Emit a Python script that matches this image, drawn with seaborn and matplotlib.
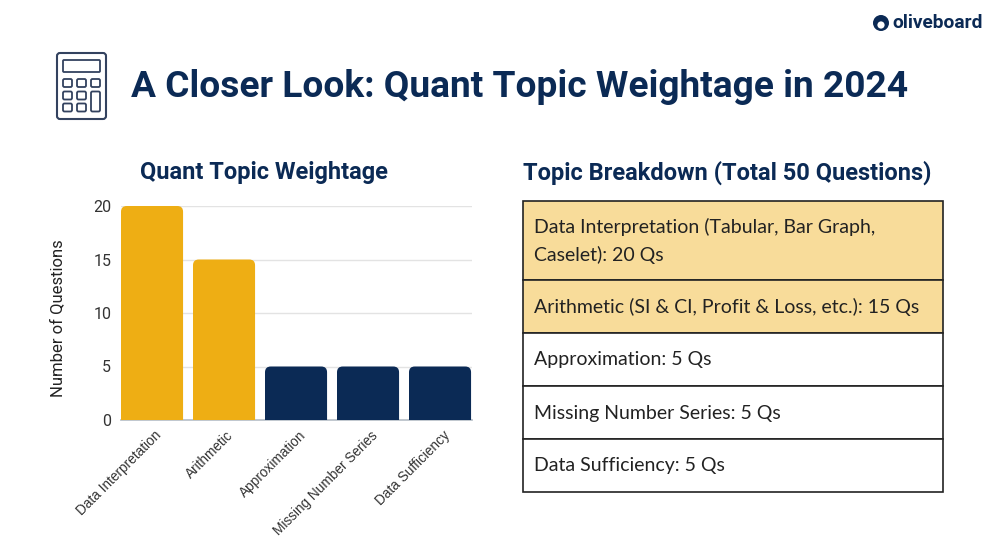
import matplotlib
matplotlib.use("Agg")
import matplotlib.pyplot as plt
from matplotlib.patches import Rectangle, FancyBboxPatch, Circle
from matplotlib.transforms import ScaledTranslation
import seaborn as sns
import pandas as pd

topics = ["Data Interpretation", "Arithmetic", "Approximation", "Missing Number Series", "Data Sufficiency"]
questions = [20, 15, 5, 5, 5]
highlight = ["hi", "hi", "lo", "lo", "lo"]
yticks = [0, 5, 10, 15, 20]
table_rows = [
    "Data Interpretation (Tabular, Bar Graph,\nCaselet): 20 Qs",
    "Arithmetic (SI & CI, Profit & Loss, etc.): 15 Qs",
    "Approximation: 5 Qs",
    "Missing Number Series: 5 Qs",
    "Data Sufficiency: 5 Qs",
]
table_edges = [201, 280, 333, 386, 439, 492]
table_fill = ["#F8DC9A", "#F8DC9A", "#FFFFFF", "#FFFFFF", "#FFFFFF"]

NAVY = "#0B2A55"
GOLD = "#EEAE14"
W, H = 996, 538

sns.set_theme(style="white")
plt.rcParams["font.family"] = ["Roboto", "DejaVu Sans"]

fig = plt.figure(figsize=(W / 100, H / 100), dpi=100, facecolor="white")
page = fig.add_axes([0, 0, 1, 1], zorder=0)
page.set_xlim(0, W)
page.set_ylim(H, 0)
page.axis("off")

# Chart
ax = fig.add_axes([121 / W, 1 - 420 / H, (472 - 121) / W, (420 - 206) / H], zorder=1)
ax.patch.set_alpha(0)
df = pd.DataFrame({"topic": topics, "questions": questions, "group": highlight})
sns.barplot(data=df, x="topic", y="questions", hue="group", dodge=False, legend=False,
            palette={"hi": GOLD, "lo": NAVY}, width=0.862, ax=ax, zorder=3, saturation=1)
ax.set_xlim(-0.431, 4.444)
ax.set_ylim(0, 20)
ax.set_yticks(yticks)
ax.set_ylabel("Number of Questions", fontsize=12, color="#222222")
ax.yaxis.set_label_coords((65 - 121) / 351, (420 - 318) / 214)
ax.set_xlabel("")
ax.grid(axis="y", color="#E3E3E3", lw=1, zorder=0)
ax.set_axisbelow(True)
for s in ["top", "right", "left"]:
    ax.spines[s].set_visible(False)
ax.spines["bottom"].set_color("#B8C0C8")
ax.tick_params(axis="y", length=0, labelsize=11.5, labelcolor="#333333", pad=7)
ax.tick_params(axis="x", length=0, pad=6)

# Rounded top corners: each seaborn bar is redrawn with a rounded outline of the same size
for bar in list(ax.patches):
    x, w, h = bar.get_x(), bar.get_width(), bar.get_height()
    if h <= 0:
        continue
    bar.set_visible(False)
    ax.add_patch(FancyBboxPatch((x, -3), w, h + 3, boxstyle="round,pad=0,rounding_size=0.08",
                                mutation_aspect=6.7, fc=bar.get_facecolor(), ec="none", zorder=3))
ax.set_xlim(-0.431, 4.444)
ax.set_ylim(0, 20)

offset = ScaledTranslation(2.5 / 100, 0, fig.dpi_scale_trans)
for lab in ax.get_xticklabels():
    lab.set_rotation(45)
    lab.set_ha("right")
    lab.set_rotation_mode("anchor")
    lab.set_fontsize(9.8)
    lab.set_color("#333333")
    lab.set_family(["Liberation Sans", "DejaVu Sans"])
    lab.set_transform(lab.get_transform() + offset)

# Titles
page.text(131, 87, "A Closer Look: Quant Topic Weightage in 2024", fontsize=26.7, fontweight="bold",
          color=NAVY, va="center", ha="left")
page.text(264, 173, "Quant Topic Weightage", fontsize=17, fontweight="bold", color=NAVY, va="center", ha="center")
page.text(727, 173, "Topic Breakdown (Total 50 Questions)", fontsize=17, fontweight="bold", color=NAVY,
          va="center", ha="center")

# Table
for i, row in enumerate(table_rows):
    top, bottom = table_edges[i], table_edges[i + 1]
    page.add_patch(Rectangle((523, top), 420, bottom - top, fc=table_fill[i], ec="#222222", lw=1.2))
    page.text(534, (top + bottom) / 2 + 0.5, row, fontsize=14, color="#222222", va="center", ha="left",
              family=["Lato", "DejaVu Sans"], linespacing=1.6)

# Calculator icon
def rrect(x, y, w, h, r=1.5, lw=1.3):
    page.add_patch(FancyBboxPatch((x + r, y + r), w - 2 * r, h - 2 * r,
                                  boxstyle=f"round,pad={r},rounding_size={r}", fc="none", ec="#33425F", lw=lw))

rrect(57, 53, 49, 66, r=3, lw=1.5)
rrect(63, 60, 37, 12, r=1)
for cx in (63, 77, 91):
    rrect(cx, 79, 9, 8)
for cx in (63, 77):
    rrect(cx, 91.5, 9, 8)
    rrect(cx, 103.5, 9, 8)
rrect(91, 91.5, 9, 20)

# Logo
page.add_patch(Circle((881, 23), 8, fc=NAVY, ec="none"))
page.add_patch(Circle((881, 25), 3.6, fc="white", ec="none"))
page.text(892, 23.5, "oliveboard", fontsize=13.8, fontweight="bold", color=NAVY, va="center", ha="left")

fig.savefig("out.png", dpi=100, facecolor="white")
